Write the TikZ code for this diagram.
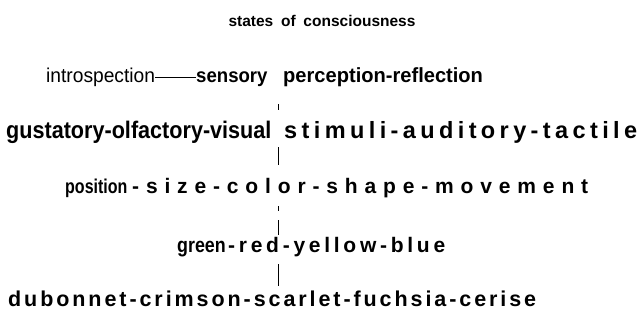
\documentclass[tikz,border=0pt]{standalone}
\usepackage{fontspec}
\setmainfont{Liberation Sans}
\usepackage{tikz}
\usetikzlibrary{positioning}
% letters spread evenly over a given width
\newcommand\spreadto[2]{\hbox to #1{\spreadfirst#2\relax}}
\def\spreadfirst#1{#1\spreadrest}
\def\spreadrest#1{\ifx\relax#1\else\hfil#1\expandafter\spreadrest\fi}
\newcommand\fsz[1]{\fontsize{#1}{#1}\selectfont}
\newcommand\narrow[2]{\scalebox{#1}[1]{#2}}
\tikzset{
  rowtext/.style={inner sep=0pt,anchor=base west,font=\bfseries},
  spineline/.style={line width=1pt},
}

\begin{document}
\begin{tikzpicture}[x=1pt,y=-1pt]
\useasboundingbox (0,0) rectangle (643,324);
\node[rowtext,anchor=base] (title) at (322,26) {\fsz{15.5}states\hspace{0.5em}of\hspace{0.5em}consciousness};
% second row
\node[rowtext,font=\mdseries] (intro) at (46,82) {\fsz{20}\narrow{0.96}{introspection}};
\node[rowtext] (sensory) at (196,82) {\fsz{20}\narrow{0.93}{sensory}};
\node[rowtext] (perref) at (283,82) {\fsz{20.5}\narrow{0.98}{perception-reflection}};
\draw[line width=0.8pt] ([yshift=5pt]intro.base east) -- ([yshift=5pt]sensory.base west);
% senses
\node[rowtext] (gustat) at (6,138) {\fsz{24}\narrow{0.9}{gustatory-olfactory-visual}};
\node[rowtext] (stimuli) at (284,138) {\fsz{23.5}\spreadto{353pt}{stimuli-auditory-tactile}};
% visual qualities
\node[rowtext] (position) at (65,193) {\fsz{20}\narrow{0.8}{position}};
\node[rowtext] (sizemove) at (132,193) {\fsz{21}\spreadto{456pt}{-size-color-shape-movement}};
% colours
\node[rowtext] (green) at (177,252) {\fsz{21}\narrow{0.85}{green}};
\node[rowtext] (redblue) at (228,252) {\fsz{21}\spreadto{217pt}{-red-yellow-blue}};
\node[rowtext] (dubonnet) at (8,306) {\fsz{21.5}\spreadto{528pt}{dubonnet-crimson-scarlet-fuchsia-cerise}};
% the spine
\coordinate (s1a) at (278,104); \coordinate (s1b) at (278,110);
\coordinate (s2a) at (278,147); \coordinate (s2b) at (278,165);
\coordinate (s3a) at (278,206); \coordinate (s3b) at (278,211);
\coordinate (s4a) at (278,220); \coordinate (s4b) at (278,235);
\coordinate (s5a) at (278,264); \coordinate (s5b) at (278,286);
\draw[spineline] (s1a) -- (s1b);
\draw[spineline] (s2a) -- (s2b);
\draw[spineline] (s3a) -- (s3b);
\draw[spineline] (s4a) -- (s4b);
\draw[spineline] (s5a) -- (s5b);
\end{tikzpicture}
\end{document}
